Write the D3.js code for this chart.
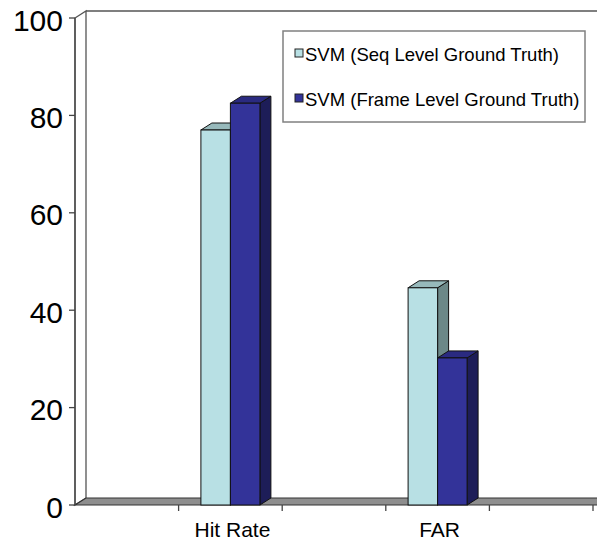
<!DOCTYPE html>
<html>
<head>
<meta charset="utf-8">
<script src="https://cdn.jsdelivr.net/npm/d3@7/dist/d3.min.js"></script>
<style>
  html, body { margin: 0; padding: 0; background: #fff; }
  svg { display: block; font-family: "Liberation Sans", Arial, sans-serif; }
</style>
</head>
<body>
<svg id="chart" width="597" height="545"></svg>
<script>
// Category slots along the x axis (blank slots are empty columns)
const slots = ["", "Hit Rate", "", "FAR", ""];
const seriesNames = ["SVM (Seq Level Ground Truth)", "SVM (Frame Level Ground Truth)"];
const seqLevel = { "Hit Rate": 77, "FAR": 44.6 };
const frameLevel = { "Hit Rate": 82.5, "FAR": 30.2 };
const yTicks = [0, 20, 40, 60, 80, 100];

// face colours per series: front, top, side
const palette = [
  { front: "#b8e0e4", top: "#97b9bb", side: "#6c8888" },
  { front: "#333399", top: "#2a2a80", side: "#1d1d58" }
];

const svg = d3.select("#chart");
const W = 597;
const dx = 11, dy = -7;           // depth offset of the 3-D box

const y = d3.scaleLinear().domain([0, 100]).range([505, 18]);
const x = d3.scaleBand().domain(slots.map((d, i) => i)).range([75, 593]).padding(0);
const xs = d3.scaleBand().domain([0, 1]).range([0, x.bandwidth()])
  .paddingInner(0).paddingOuter(0.756);

const y0 = y(0), yTop = y(100), xL = x.range()[0];
const pts = a => a.map(p => p.join(",")).join(" ");

// back wall and left wall
svg.append("polygon")
  .attr("points", pts([[xL, yTop], [xL + dx, yTop + dy], [xL + dx, y0 + dy], [xL, y0]]))
  .attr("fill", "#fff").attr("stroke", "#555").attr("stroke-width", 1.3);
svg.append("line")
  .attr("x1", xL + dx).attr("y1", yTop + dy).attr("x2", W + 5).attr("y2", yTop + dy)
  .attr("stroke", "#555").attr("stroke-width", 1.3);

// floor
svg.append("polygon")
  .attr("points", pts([[xL, y0], [W + 5, y0], [W + 5 + dx, y0 + dy], [xL + dx, y0 + dy]]))
  .attr("fill", "#8e8e8e").attr("stroke", "#333").attr("stroke-width", 1.2);

// y axis (front edge) with ticks and labels
const yAxis = svg.append("g");
yAxis.append("line")
  .attr("x1", xL).attr("y1", yTop).attr("x2", xL).attr("y2", y0)
  .attr("stroke", "#444").attr("stroke-width", 1.3);
yAxis.selectAll("line.tick").data(yTicks).join("line")
  .attr("class", "tick")
  .attr("x1", xL - 6).attr("x2", xL)
  .attr("y1", d => y(d)).attr("y2", d => y(d))
  .attr("stroke", "#444").attr("stroke-width", 1.3);
yAxis.selectAll("text").data(yTicks).join("text")
  .attr("x", xL - 12).attr("y", d => y(d) + 2)
  .attr("text-anchor", "end").attr("dominant-baseline", "central")
  .attr("font-size", 30).attr("fill", "#000")
  .text(d => d);

// x axis ticks at slot boundaries
const bounds = slots.map((d, i) => x(i) + x.bandwidth()).filter((v, i) => i >= 0);
svg.selectAll("line.xtick").data(bounds).join("line")
  .attr("class", "xtick")
  .attr("x1", d => d).attr("x2", d => d)
  .attr("y1", y0).attr("y2", y0 + 6)
  .attr("stroke", "#444").attr("stroke-width", 1.3);

// bars
const cats = slots.map((c, i) => ({ c, i })).filter(d => d.c !== "");
const seriesVals = [seqLevel, frameLevel];
cats.forEach(({ c, i }) => {
  seriesVals.forEach((vals, s) => {
    const v = vals[c];
    const x0 = x(i) + xs(s), x1 = x0 + xs.bandwidth();
    const yt = y(v);
    const col = palette[s];
    const g = svg.append("g");
    g.append("polygon")
      .attr("points", pts([[x1, yt], [x1 + dx, yt + dy], [x1 + dx, y0 + dy], [x1, y0]]))
      .attr("fill", col.side).attr("stroke", "#111").attr("stroke-width", 1);
    g.append("polygon")
      .attr("points", pts([[x0, yt], [x1, yt], [x1 + dx, yt + dy], [x0 + dx, yt + dy]]))
      .attr("fill", col.top).attr("stroke", "#111").attr("stroke-width", 1);
    g.append("rect")
      .attr("x", x0).attr("y", yt).attr("width", x1 - x0).attr("height", y0 - yt)
      .attr("fill", col.front).attr("stroke", "#111").attr("stroke-width", 1);
  });
});

// category labels
svg.selectAll("text.xlab").data(cats).join("text")
  .attr("class", "xlab")
  .attr("x", d => x(d.i) + x.bandwidth() / 2 + 2).attr("y", 537)
  .attr("text-anchor", "middle").attr("font-size", 21).attr("fill", "#000")
  .text(d => d.c);

// legend
const lg = svg.append("g");
lg.append("rect")
  .attr("x", 283).attr("y", 31).attr("width", 302).attr("height", 91)
  .attr("fill", "#fff").attr("stroke", "#808080").attr("stroke-width", 1.5);
seriesNames.forEach((name, s) => {
  const yy = 49 + s * 45;
  lg.append("rect")
    .attr("x", 295).attr("y", yy).attr("width", 8).attr("height", 8)
    .attr("fill", palette[s].front).attr("stroke", "#222").attr("stroke-width", 1);
  lg.append("text")
    .attr("x", 305).attr("y", yy + 12)
    .attr("font-size", 18.5).attr("fill", "#000")
    .text(name);
});
</script>
</body>
</html>
